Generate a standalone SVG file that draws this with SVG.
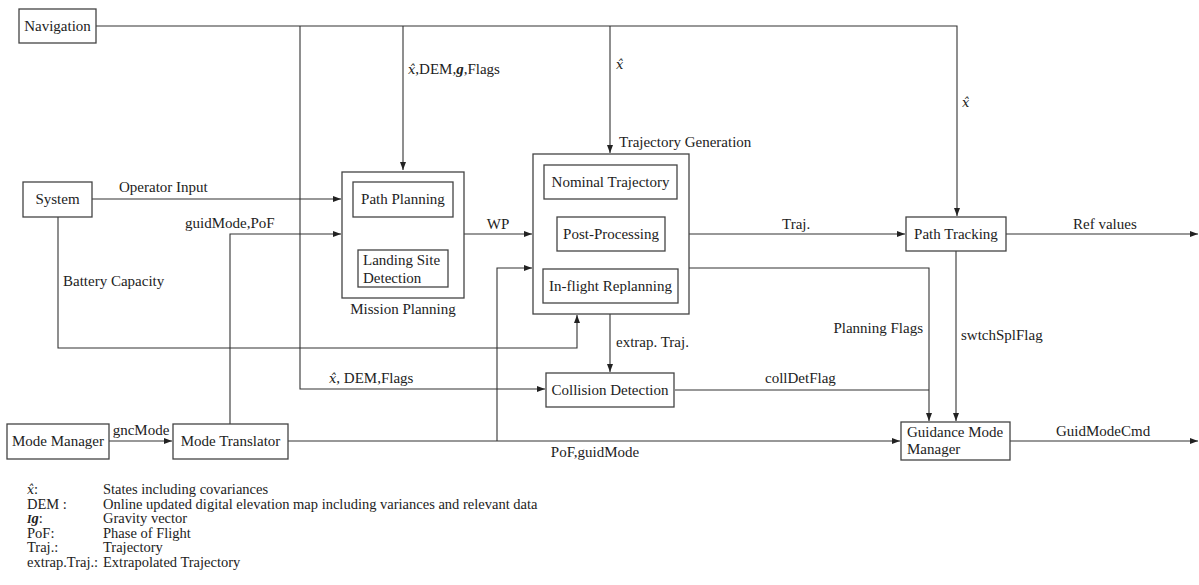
<svg xmlns="http://www.w3.org/2000/svg" width="1199" height="585" viewBox="0 0 1199 585" font-family="'Liberation Serif', serif">
<style>
text{font-family:"Liberation Serif","DejaVu Serif",serif;font-size:15px;fill:#222}
.m{text-anchor:middle}
.e{text-anchor:end}
.i{font-style:italic}
.h{font-family:"DejaVu Serif",serif;font-style:italic;font-size:13px}
.bi{font-style:italic;font-weight:bold}
.box{fill:#fff;stroke:#444;stroke-width:1.3}
.c path{fill:none;stroke:#333;stroke-width:1.1}
.lg text{font-size:14.5px}
.lg .h{font-size:12.5px}
</style>
<defs>
<marker id="a" markerUnits="userSpaceOnUse" markerWidth="9" markerHeight="7" refX="8" refY="3" orient="auto">
<path d="M0,0 L8,3 L0,6 z" fill="#222"/>
</marker>
</defs>
<rect width="1199" height="585" fill="#fff"/>

<g class="c">
<path d="M96,26 H957 V216" marker-end="url(#a)"/>
<path d="M300,26 V389 H545" marker-end="url(#a)"/>
<path d="M403,26 V170" marker-end="url(#a)"/>
<path d="M610,26 V153" marker-end="url(#a)"/>
<path d="M92,199 H341" marker-end="url(#a)"/>
<path d="M230,424 V234 H341" marker-end="url(#a)"/>
<path d="M58,217 V348 H577 V315" marker-end="url(#a)"/>
<path d="M464,234 H532" marker-end="url(#a)"/>
<path d="M288,441 H900" marker-end="url(#a)"/>
<path d="M497,441 V268 H532" marker-end="url(#a)"/>
<path d="M689,234 H905" marker-end="url(#a)"/>
<path d="M689,268 H929 V421" marker-end="url(#a)"/>
<path d="M610,314 V372" marker-end="url(#a)"/>
<path d="M675,390 H929"/>
<path d="M956,251 V421" marker-end="url(#a)"/>
<path d="M1006,234 H1198" marker-end="url(#a)"/>
<path d="M1010,441 H1198" marker-end="url(#a)"/>
<path d="M109,441 H172" marker-end="url(#a)"/>
</g>

<g id="labels">
<text x="408" y="74"><tspan class="h">x̂</tspan>,DEM,<tspan class="bi">g</tspan>,Flags</text>
<text x="616" y="69" class="h">x̂</text>
<text x="619" y="147">Trajectory Generation</text>
<text x="962" y="107" class="h">x̂</text>
<text x="119" y="192">Operator Input</text>
<text x="185" y="228">guidMode,PoF</text>
<text x="63" y="286">Battery Capacity</text>
<text x="498" y="229" class="m">WP</text>
<text x="782" y="229">Traj.</text>
<text x="1073" y="229">Ref values</text>
<text x="923" y="333" class="e">Planning Flags</text>
<text x="961" y="340">swtchSplFlag</text>
<text x="616" y="347">extrap. Traj.</text>
<text x="329" y="383"><tspan class="h">x̂</tspan>, DEM,Flags</text>
<text x="765" y="383">collDetFlag</text>
<text x="141" y="435" class="m">gncMode</text>
<text x="595" y="457" class="m">PoF,guidMode</text>
<text x="1056" y="436">GuidModeCmd</text>
</g>

<g id="navigation"><rect class="box" x="19" y="9" width="77" height="34"/><text x="57.5" y="31" class="m">Navigation</text></g>
<g id="system"><rect class="box" x="23" y="182" width="69" height="35"/><text x="57.5" y="204" class="m">System</text></g>
<g id="mission-planning">
<rect class="box" x="342" y="172" width="122" height="126"/>
<text x="403" y="314" class="m">Mission Planning</text>
<g id="path-planning"><rect class="box" x="353" y="182" width="100" height="35"/><text x="403" y="204" class="m">Path Planning</text></g>
<g id="landing-site"><rect class="box" x="358" y="250" width="90" height="37"/><text x="363" y="265">Landing Site</text><text x="363" y="283">Detection</text></g>
</g>
<g id="trajectory-generation">
<rect class="box" x="533" y="154" width="156" height="160"/>
<g id="nominal"><rect class="box" x="544" y="165" width="133" height="34"/><text x="610.5" y="187" class="m">Nominal Trajectory</text></g>
<g id="post"><rect class="box" x="557" y="217" width="108" height="34"/><text x="611" y="239" class="m">Post-Processing</text></g>
<g id="inflight"><rect class="box" x="543" y="269" width="135" height="34"/><text x="610.5" y="291" class="m">In-flight Replanning</text></g>
</g>
<g id="path-tracking"><rect class="box" x="906" y="217" width="100" height="34"/><text x="956" y="239" class="m">Path Tracking</text></g>
<g id="collision"><rect class="box" x="546" y="373" width="128" height="34"/><text x="610" y="395" class="m">Collision Detection</text></g>
<g id="mode-manager"><rect class="box" x="7" y="424" width="102" height="35"/><text x="58" y="446" class="m">Mode Manager</text></g>
<g id="mode-translator"><rect class="box" x="173" y="424" width="115" height="35"/><text x="230.5" y="446" class="m">Mode Translator</text></g>
<g id="gmm"><rect class="box" x="901" y="422" width="109" height="38"/><text x="907" y="437">Guidance Mode</text><text x="907" y="454">Manager</text></g>

<g id="legend" class="lg">
<text x="27" y="494"><tspan class="h">x̂</tspan>:</text><text x="103" y="494">States including covariances</text>
<text x="27" y="508.5">DEM :</text><text x="103" y="508.5">Online updated digital elevation map including variances and relevant data</text>
<text x="27" y="523"><tspan class="bi" font-size="11.5">I</tspan><tspan class="bi">g</tspan>:</text><text x="103" y="523">Gravity vector</text>
<text x="27" y="537.5">PoF:</text><text x="103" y="537.5">Phase of Flight</text>
<text x="27" y="552">Traj.:</text><text x="103" y="552">Trajectory</text>
<text x="27" y="566.5">extrap.Traj.:</text><text x="103" y="566.5">Extrapolated Trajectory</text>
</g>
</svg>
